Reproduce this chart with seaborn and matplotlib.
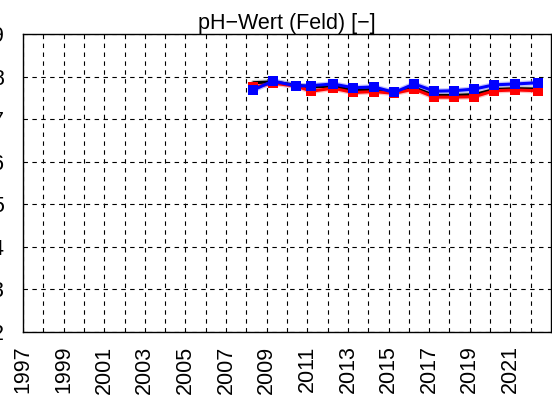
import numpy as np
import pandas as pd
import matplotlib
matplotlib.use("Agg")
import matplotlib.pyplot as plt
import seaborn as sns

sns.set_style("white")
plt.rcParams['font.family'] = ['Liberation Sans', 'DejaVu Sans']
plt.rcParams['text.color'] = 'black'
plt.rcParams['xtick.color'] = 'black'
plt.rcParams['ytick.color'] = 'black'

# sampling dates (decimal years) and pH values
years = [2008.35, 2009.3, 2010.45, 2011.2, 2012.26, 2013.27, 2014.29, 2015.28,
         2016.26, 2017.26, 2018.2, 2019.22, 2020.2, 2021.24, 2022.38]
ph_black = [7.86, 7.88, 7.80, 7.76, 7.78, 7.68, 7.70, 7.64, 7.74, 7.56,
            7.56, 7.58, 7.70, 7.72, 7.71]
ph_red = [7.75, 7.85, 7.78, 7.66, 7.73, 7.63, 7.65, 7.61, 7.71, 7.52,
          7.52, 7.53, 7.67, 7.69, 7.67]
ph_blue = [7.69, 7.90, 7.78, 7.79, 7.83, 7.74, 7.76, 7.63, 7.83, 7.66,
           7.67, 7.71, 7.81, 7.83, 7.86]

df = pd.DataFrame({'jahr': years, 'schwarz': ph_black, 'rot': ph_red, 'blau': ph_blue})

fig = plt.figure(figsize=(5.52, 4.01), dpi=100)
ax = fig.add_axes([23 / 552, 1 - 331.5 / 401, 528 / 552, 297.2 / 401])

# faint halos under the lines, as in the original
for col, halo in [('schwarz', '#b0b0b0'), ('rot', '#ff9a9a'), ('blau', '#9a9aff')]:
    sns.lineplot(data=df, x='jahr', y=col, color=halo, linewidth=4, alpha=0.6, ax=ax)

sns.lineplot(data=df, x='jahr', y='schwarz', color='black', linewidth=2.2, ax=ax)
sns.lineplot(data=df, x='jahr', y='rot', color='#ff0000', linewidth=2.2,
             marker='s', markersize=7, markeredgewidth=0, ax=ax)
sns.lineplot(data=df, x='jahr', y='blau', color='#0000ff', linewidth=2.2,
             marker='s', markersize=7, markeredgewidth=0, ax=ax)

ax.set_xlim(1997, 2023)
ax.set_ylim(2, 9)
ax.set_xticks(np.arange(1997, 2023, 2))
ax.set_xticks(np.arange(1998, 2023, 2), minor=True)
ax.set_xticklabels([str(y) for y in range(1997, 2023, 2)], rotation=90)
ax.set_yticks(np.arange(2, 10, 1))
ax.grid(True, which='both', axis='x', color='black', linestyle=(0, (4, 4)), linewidth=0.8)
ax.grid(True, which='major', axis='y', color='black', linestyle=(0, (4, 4)), linewidth=0.8)
ax.tick_params(axis='both', which='both', direction='out', length=4, width=0.8,
               color='black', labelsize=15.5, labelcolor='black')
ax.tick_params(axis='x', which='minor', length=0)
ax.tick_params(axis='x', pad=6)
ax.tick_params(axis='y', pad=10)
for s in ax.spines.values():
    s.set_color('black')
    s.set_linewidth(1.0)
ax.set_xlabel('')
ax.set_ylabel('')
ax.set_title('pH\u2212Wert (Feld) [\u2212]', fontsize=15.5, pad=4, color='black')

fig.savefig('out.png', dpi=100)
